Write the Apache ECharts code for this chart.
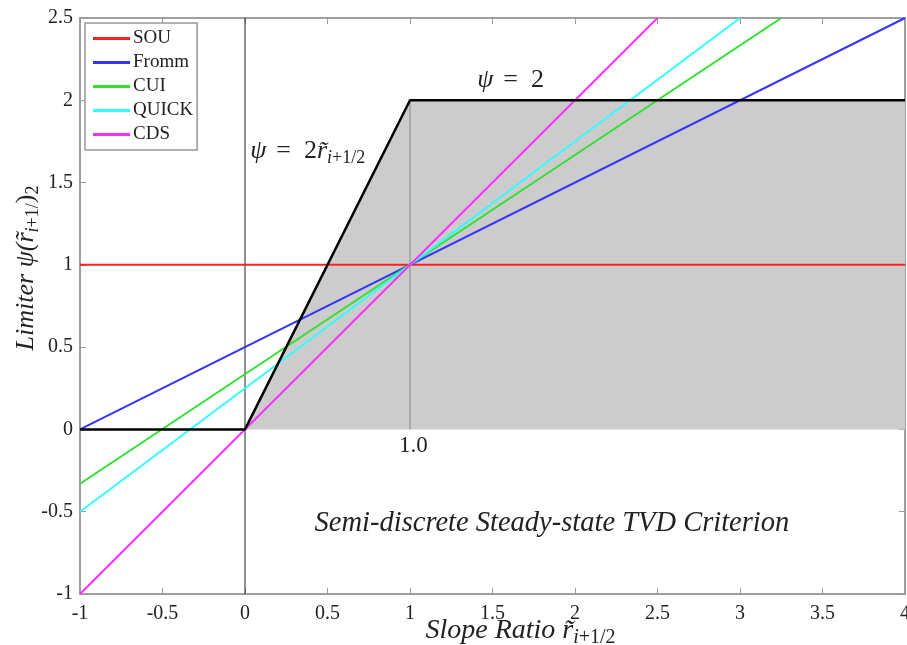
<!DOCTYPE html>
<html>
<head>
<meta charset="utf-8">
<script src="https://cdn.jsdelivr.net/npm/echarts@6/dist/echarts.min.js"></script>
<style>
  html, body { margin: 0; padding: 0; background: #fff; }
  #chart { width: 907px; height: 645px; }
</style>
</head>
<body>
<div id="chart"></div>
<script>
// 各格式的限制函数（直线，两端点读自原图）
const souX   = [-1, 4];    const souY   = [1, 1];
const frommX = [-1, 4];    const frommY = [0, 2.5];
const cuiX   = [-1, 3.25]; const cuiY   = [-0.33, 2.5];
const quickX = [-1, 3];    const quickY = [-0.5, 2.5];
const cdsX   = [-1, 2.5];  const cdsY   = [-1, 2.5];

// TVD 区域边界
const boundX = [-1, 0, 1, 4];
const boundY = [0, 0, 2, 2];
const fillX  = [0, 1, 4];
const fillY  = [0, 2, 2];

// 竖线
const zeroLineX = [0, 0];  const zeroLineY = [-1, 2.5];
const oneLineX  = [1, 1];  const oneLineY  = [0, 2];

const names  = ['SOU', 'Fromm', 'CUI', 'QUICK', 'CDS'];
const colors = ['#ff2020', '#3535ff', '#30e030', '#30ffff', '#ff30ff'];
const lineXs = [souX, frommX, cuiX, quickX, cdsX];
const lineYs = [souY, frommY, cuiY, quickY, cdsY];

const zip = (xs, ys) => xs.map((x, i) => [x, ys[i]]);

const serif = 'Liberation Serif';
const rich = {
  m: { fontFamily: serif, fontStyle: 'italic', fontSize: 26, color: '#222' },
  n: { fontFamily: serif, fontSize: 26, color: '#222' },
  s: { fontFamily: serif, fontStyle: 'italic', fontSize: 18, color: '#222', padding: [14, 0, 0, 0] },
  ns: { fontFamily: serif, fontSize: 18, color: '#222', padding: [14, 0, 0, 0] },
  xm: { fontFamily: serif, fontStyle: 'italic', fontSize: 28, color: '#222' },
  xs: { fontFamily: serif, fontStyle: 'italic', fontSize: 20, color: '#222', padding: [14, 0, 0, 0] },
  xn: { fontFamily: serif, fontSize: 20, color: '#222', padding: [14, 0, 0, 0] },
  t: { fontFamily: serif, fontStyle: 'italic', fontSize: 28.5, color: '#222' },
  o: { fontFamily: serif, fontSize: 23, color: '#222' },
}

// 标注文字
const notes = [
  { x: 0.38, y: 1.69, text: '{m|ψ} {n| =  2}{m|r̃}{s|i}{ns|+1/2}' },
  { x: 1.61, y: 2.12, text: '{m|ψ} {n| =  2}' },
  { x: 1.02, y: -0.10, text: '{o|1.0}' },
  { x: 1.86, y: -0.57, text: '{t|Semi-discrete Steady-state TVD Criterion}' },
]

const axisStyle = { onZero: false, lineStyle: { color: '#999', width: 1.5 } };
const tickStyle = { inside: true, length: 6, lineStyle: { color: '#999' } };

const chart = echarts.init(document.getElementById('chart'));
chart.setOption({
  animation: false,
  grid: {
    left: 80, right: 2, top: 18, bottom: 51, show: true,
    borderColor: '#999', borderWidth: 1.5, outerBoundsMode: 'none',
  },
  legend: {
    data: names,
    orient: 'vertical',
    left: 85, top: 23,
    padding: [6, 4, 6, 8],
    itemGap: 5,
    itemWidth: 37, itemHeight: 3,
    icon: 'rect',
    backgroundColor: '#fff',
    borderColor: '#999', borderWidth: 1.5, borderRadius: 0,
    textStyle: { fontFamily: serif, fontSize: 19, color: '#222', padding: [0, 0, 0, -2], lineHeight: 19 },
  },
  xAxis: [{
    type: 'value', min: -1, max: 4, interval: 0.5,
    axisLine: axisStyle, axisTick: tickStyle,
    splitLine: { show: false },
    axisLabel: { fontFamily: serif, fontSize: 20, color: '#222', margin: 10 },
    name: '{xm|Slope Ratio r̃}{xs|i}{xn|+1/2}',
    nameLocation: 'middle', nameGap: 20, nameMoveOverlap: false,
    nameTextStyle: { rich, padding: [0, 0, 0, 56] },
  }, {
    type: 'value', min: -1, max: 4, interval: 0.5, position: 'top',
    axisLine: axisStyle, axisTick: tickStyle,
    axisLabel: { show: false }, splitLine: { show: false },
  }],
  yAxis: [{
    type: 'value', min: -1, max: 2.5, interval: 0.5,
    axisLine: axisStyle, axisTick: tickStyle,
    splitLine: { show: false },
    axisLabel: { fontFamily: serif, fontSize: 20, color: '#222', margin: 7 },
    name: '{m|Limiter ψ(r̃}{s|i}{ns|+1/}{n|)}{ns|2}',
    nameLocation: 'middle', nameGap: 38, nameRotate: 90, nameMoveOverlap: false,
    nameTextStyle: { rich, padding: [0, 0, 0, 76] },
  }, {
    type: 'value', min: -1, max: 2.5, interval: 0.5, position: 'right',
    axisLine: axisStyle, axisTick: tickStyle,
    axisLabel: { show: false }, splitLine: { show: false },
  }],
  series: [
    {
      type: 'line', data: zip(fillX, fillY), symbol: 'none',
      lineStyle: { width: 0 }, areaStyle: { color: '#cccccc', opacity: 1 }, z: 1,
    },
    {
      type: 'line', data: zip(oneLineX, oneLineY), symbol: 'none',
      lineStyle: { color: '#888', width: 1 }, z: 2,
    },
    {
      type: 'line', data: zip(zeroLineX, zeroLineY), symbol: 'none',
      lineStyle: { color: '#222', width: 1 }, z: 2,
    },
    ...names.map((n, i) => ({
      name: n, type: 'line', data: zip(lineXs[i], lineYs[i]), symbol: 'none',
      color: colors[i], lineStyle: { color: colors[i], width: 2 }, z: 3,
    })),
    {
      type: 'line', data: zip(boundX, boundY), symbol: 'none',
      lineStyle: { color: '#000', width: 2.5 }, z: 4,
    },
    {
      type: 'scatter', symbolSize: 1, z: 5,
      data: notes.map(d => ({
        value: [d.x, d.y],
        label: { show: true, position: 'inside', formatter: d.text, rich },
      })),
      itemStyle: { color: 'rgba(0,0,0,0)', opacity: 1 },
      silent: true,
    },
  ],
});
</script>
</body>
</html>
